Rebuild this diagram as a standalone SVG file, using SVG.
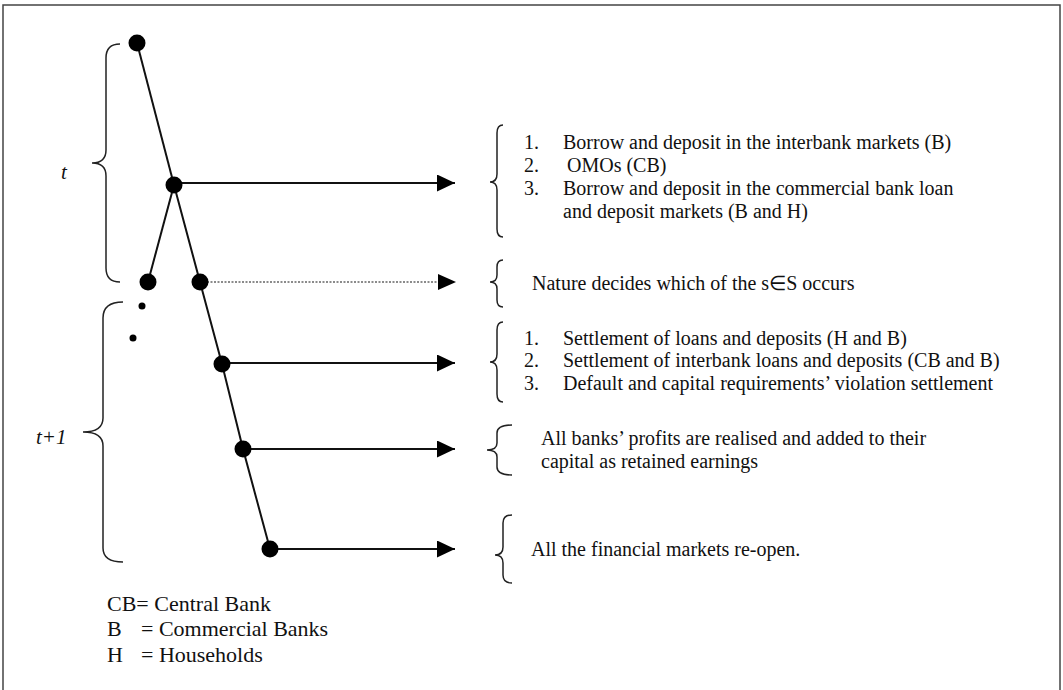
<svg xmlns="http://www.w3.org/2000/svg" width="1063" height="690" viewBox="0 0 1063 690">
<defs>
<style>
.t{font-family:"Liberation Serif","Times New Roman",serif;font-size:20px;fill:#111}
.lg{font-family:"Liberation Serif","Times New Roman",serif;font-size:22px;fill:#111}
.it{font-family:"Liberation Serif","Times New Roman",serif;font-size:21px;font-style:italic;fill:#111}
.br{fill:none;stroke:#222;stroke-width:1.5}
.edge{fill:none;stroke:#111;stroke-width:2}
.arr{fill:none;stroke:#111;stroke-width:2.2}
.dot{fill:none;stroke:#666;stroke-width:1.3;stroke-dasharray:2 1.5}
.n{fill:#000}
</style>
<marker id="ah" markerWidth="18" markerHeight="17" refX="18" refY="8.5" orient="auto" markerUnits="userSpaceOnUse">
<path d="M0,0 L18,8.5 L0,17 Z" fill="#000"/>
</marker>
</defs>
<rect x="0" y="0" width="1063" height="690" fill="#fff"/>
<rect x="3" y="5" width="1057" height="700" fill="none" stroke="#444" stroke-width="1.5"/>

<g id="braces">
<path class="br" d="M120,44 Q106,44 106,58 L106,150 Q106,163 92,163 Q106,163 106,176 L106,268 Q106,282 120,282"/>
<path class="br" d="M123,302 Q103,302 103,318 L103,418 Q103,432 83,432 Q103,432 103,446 L103,548 Q103,562 123,562"/>
<path class="br" d="M503,125 Q497,125 497,133 L497,174 Q497,182 490,182 Q497,182 497,190 L497,229 Q497,237 503,237"/>
<path class="br" d="M503,260 Q497,260 497,267 L497,275 Q497,282 490,282 Q497,282 497,289 L497,300 Q497,307 503,307"/>
<path class="br" d="M503,322 Q497,322 497,330 L497,354 Q497,362 490,362 Q497,362 497,370 L497,394 Q497,402 503,402"/>
<path class="br" d="M512,425 Q497,425 497,433 L497,443 Q497,450 487,450 Q497,450 497,457 L497,467 Q497,475 512,475"/>
<path class="br" d="M512,515 Q503,515 503,523 L503,547 Q503,555 495,555 Q503,555 503,563 L503,575 Q503,583 512,583"/>
</g>

<g id="connectors">
<path class="edge" d="M137,43 L174,185"/>
<path class="edge" d="M174,185 L148,282"/>
<path class="edge" d="M174,185 L200,282 L222,364 L243,449 L270,549"/>
<path class="arr" d="M174,183 L455,183" marker-end="url(#ah)"/>
<path class="dot" d="M200,282 L440,282"/>
<path d="M438,274 L456,282 L438,290 Z" fill="#000"/>
<path class="arr" d="M222,363 L455,363" marker-end="url(#ah)"/>
<path class="arr" d="M243,449 L455,449" marker-end="url(#ah)"/>
<path class="arr" d="M270,549 L455,549" marker-end="url(#ah)"/>
</g>

<g id="n1"><circle class="n" cx="137" cy="43" r="8.5"/></g>
<g id="n2"><circle class="n" cx="174" cy="185" r="8.5"/></g>
<g id="n3"><circle class="n" cx="148" cy="282" r="8.5"/></g>
<g id="n4"><circle class="n" cx="200" cy="282" r="8.5"/></g>
<g id="dots"><circle class="n" cx="142" cy="306" r="3.5"/><circle class="n" cx="133" cy="338" r="3.5"/></g>
<g id="n5"><circle class="n" cx="222" cy="364" r="8.5"/></g>
<g id="n6"><circle class="n" cx="243" cy="449" r="8.5"/></g>
<g id="n7"><circle class="n" cx="270" cy="549" r="8.5"/></g>

<g id="labels">
<text class="it" x="61" y="179">t</text>
<text class="it" x="36" y="444">t+1</text>
</g>

<g id="block1">
<text class="t" x="524" y="149">1.</text>
<text class="t" x="563" y="149">Borrow and deposit in the interbank markets (B)</text>
<text class="t" x="524" y="172">2.</text>
<text class="t" x="567" y="172">OMOs (CB)</text>
<text class="t" x="524" y="195">3.</text>
<text class="t" x="563" y="195">Borrow and deposit in the commercial bank loan</text>
<text class="t" x="563" y="218">and deposit markets (B and H)</text>
</g>
<g id="block2">
<text class="t" x="532" y="290">Nature decides which of the s∈S occurs</text>
</g>
<g id="block3">
<text class="t" x="524" y="345">1.</text>
<text class="t" x="563" y="345">Settlement of loans and deposits (H and B)</text>
<text class="t" x="524" y="367">2.</text>
<text class="t" x="563" y="367">Settlement of interbank loans and deposits (CB and B)</text>
<text class="t" x="524" y="390">3.</text>
<text class="t" x="563" y="390">Default and capital requirements’ violation settlement</text>
</g>
<g id="block4">
<text class="t" x="541" y="445">All banks’ profits are realised and added to their</text>
<text class="t" x="541" y="468">capital as retained earnings</text>
</g>
<g id="block5">
<text class="t" x="531" y="556">All the financial markets re-open.</text>
</g>
<g id="legend">
<text class="lg" x="107" y="611">CB= Central Bank</text>
<text class="lg" x="107" y="636">B</text><text class="lg" x="141" y="636">= Commercial Banks</text>
<text class="lg" x="107" y="662">H</text><text class="lg" x="141" y="662">= Households</text>
</g>
</svg>
